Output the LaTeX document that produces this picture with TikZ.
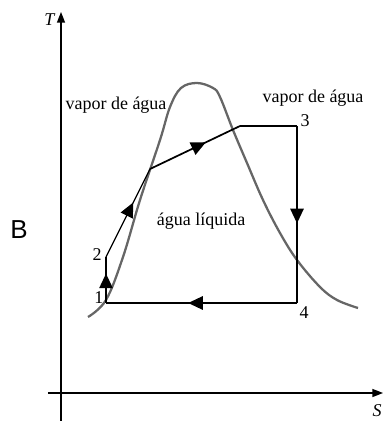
\documentclass[tikz,border=0pt]{standalone}
\usepackage{fontspec}
\setmainfont{Liberation Serif}
\newfontfamily\sanslabel{Liberation Sans}
\usetikzlibrary{arrows.meta,decorations.markings}
\tikzset{
  axis/.style={line width=1.1pt,-{Triangle[length=8pt,width=6pt]}},
  cycleline/.style={line width=1.3pt},
  thinline/.style={line width=0.9pt},
  dome/.style={line width=1.7pt,black!60},
  midarrow/.style={postaction={decorate},decoration={markings,
    mark=at position #1 with {\arrow{Triangle[length=11pt,width=10pt]}}}},
  lbl/.style={font=\fontsize{13.5}{16}\selectfont,inner sep=0pt},
}
\begin{document}
\begin{tikzpicture}[x=0.75pt,y=0.75pt]
\useasboundingbox (-61,-28) rectangle (322,393);
% axes
\coordinate (o) at (0,0);
\coordinate (ybot) at (0,-28);
\coordinate (ytop) at (0,381);
\coordinate (xleft) at (-13,0);
\coordinate (xright) at (322,0);
\draw[axis] (ybot) -- (ytop);
\draw[axis] (xleft) -- (xright);
\node[lbl] (tlabel) at (-11,373) {\textit{T}};
\node[lbl] (slabel) at (316,-18) {\textit{S}};
% saturation dome
\draw[dome] plot[smooth,tension=0.6] coordinates {(27,76) (45,93) (62,136) (79,193) (99,253)
  (109,286) (120,305) (136,310) (152,305) (159,296) (172,263) (186,230) (202,193) (219,160)
  (236,133) (259,106) (276,93) (297,85)};
% cycle points
\coordinate (p1) at (45,90);
\coordinate (p2) at (45,136);
\coordinate (kink) at (89,224);
\coordinate (top) at (179,267);
\coordinate (p3) at (236,267);
\coordinate (p4) at (236,90);
\draw[cycleline,midarrow=0.64] (p1) -- (p2);
\draw[thinline,midarrow=0.62] (p2) -- (kink);
\draw[cycleline,midarrow=0.62] (kink) -- (top);
\draw[cycleline] (top) -- (p3);
\draw[cycleline,midarrow=0.55] (p3) -- (p4);
\draw[cycleline,midarrow=0.57] (p4) -- (p1);
% labels
\node[lbl] (n1) at (38,95) {1};
\node[lbl] (n2) at (36,138) {2};
\node[lbl] (n3) at (244,272) {3};
\node[lbl] (n4) at (243,80) {4};
\node[lbl] (vapl) at (55,288) {vapor de água};
\node[lbl] (vapr) at (252,295) {vapor de água};
\node[lbl] (liq) at (140,172) {água líquida};
\node[inner sep=0pt,font=\sanslabel\fontsize{19.5}{22}\selectfont] (b) at (-42,163) {B};
\end{tikzpicture}
\end{document}
